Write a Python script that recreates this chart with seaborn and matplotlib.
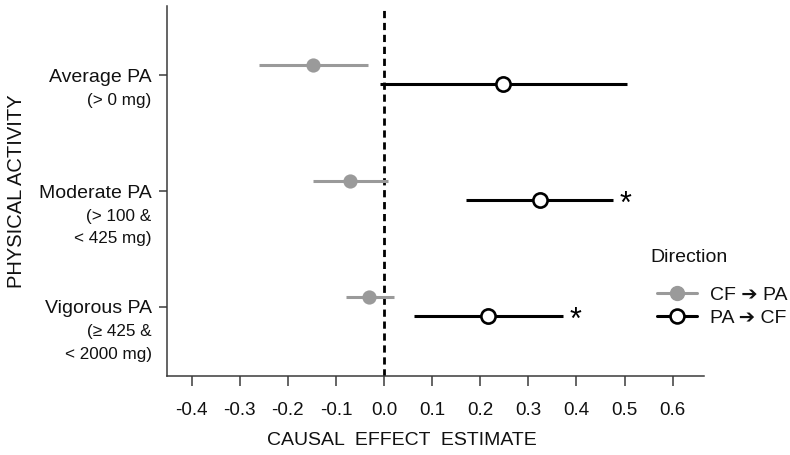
import numpy as np
import pandas as pd
import matplotlib
matplotlib.use("Agg")
import matplotlib.pyplot as plt
import seaborn as sns
from matplotlib.lines import Line2D

# ---- data ----
categories = ["Average PA", "Moderate PA", "Vigorous PA"]
sublabels = [["(> 0 mg)"], ["(> 100 &", "< 425 mg)"], ["(≥ 425 &", "< 2000 mg)"]]
directions = ["CF ➔ PA", "PA ➔ CF"]
cf_pa_est = [-0.148, -0.071, -0.031]
cf_pa_lo = [-0.260, -0.148, -0.079]
cf_pa_hi = [-0.033, 0.008, 0.021]
pa_cf_est = [0.247, 0.324, 0.216]
pa_cf_lo = [-0.008, 0.170, 0.062]
pa_cf_hi = [0.505, 0.476, 0.372]
pa_cf_sig = [False, True, True]
xticks = [-0.4, -0.3, -0.2, -0.1, 0.0, 0.1, 0.2, 0.3, 0.4, 0.5, 0.6]

sns.set_theme(style="ticks")
plt.rcParams["font.family"] = ["Liberation Sans", "DejaVu Sans"]

GRAY = "#9a9a9a"
AXC = "#3a3a3a"
TXT = "#111111"

df = pd.DataFrame({
    "category": categories * 2,
    "direction": [directions[0]] * 3 + [directions[1]] * 3,
    "est": cf_pa_est + pa_cf_est,
    "lo": cf_pa_lo + pa_cf_lo,
    "hi": cf_pa_hi + pa_cf_hi,
})
offsets = {directions[0]: -0.085, directions[1]: 0.075}
df["ypos"] = [categories.index(c) + offsets[d] for c, d in zip(df["category"], df["direction"])]

fig = plt.figure(figsize=(7.9, 4.55), dpi=100)
ax = fig.add_axes([167 / 790, 1 - 376 / 455, (704 - 167) / 790, (376 - 6) / 455])

# zero line
ax.axvline(0, color="black", lw=2.0, linestyle=(0, (2.6, 1.7)), zorder=1)

styles = {
    directions[0]: dict(line=GRAY, face=GRAY, edge=GRAY),
    directions[1]: dict(line="black", face="white", edge="black"),
}
for d in directions:
    sub = df[df["direction"] == d]
    ax.hlines(sub["ypos"], sub["lo"], sub["hi"], color=styles[d]["line"], lw=2.2, zorder=2)
    sns.scatterplot(data=sub, x="est", y="ypos", ax=ax, s=105,
                    color=styles[d]["face"], edgecolor=styles[d]["edge"],
                    linewidth=1.9 if d == directions[1] else 0, zorder=3, legend=False)

# significance stars
sub = df[df["direction"] == directions[1]].reset_index(drop=True)
for i, sig in enumerate(pa_cf_sig):
    if sig:
        ax.annotate("*", xy=(sub.loc[i, "hi"], sub.loc[i, "ypos"]), xytext=(9, -3.5),
                    textcoords="offset points", ha="center", va="center",
                    fontsize=22, color="black")

ax.set_xlim(-0.451, 0.665)
ax.set_ylim(2.595, -0.595)
ax.set_xticks(xticks)
ax.set_xticklabels([f"{t:.1f}" for t in xticks], fontsize=13.5)
ax.set_yticks(range(len(categories)))
ax.set_yticklabels(categories, fontsize=14)

for i, lines in enumerate(sublabels):
    for j, s in enumerate(lines):
        ax.annotate(s, xy=(0, i), xycoords=("axes fraction", "data"),
                    xytext=(-11, -18 - 16 * j), textcoords="offset points",
                    ha="right", va="center", fontsize=12.3, color=TXT)

ax.tick_params(axis="x", length=7, width=1.1, color=AXC, pad=12, labelcolor=TXT)
ax.tick_params(axis="y", length=6, width=1.1, color=AXC, pad=5, labelcolor=TXT)
for s in ["top", "right"]:
    ax.spines[s].set_visible(False)
for s in ["left", "bottom"]:
    ax.spines[s].set_color(AXC)
    ax.spines[s].set_linewidth(1.1)

ax.set_xlabel("CAUSAL  EFFECT  ESTIMATE", fontsize=14, color=TXT)
ax.xaxis.set_label_coords((402 - 167) / 537, -0.152)
ax.set_ylabel("PHYSICAL ACTIVITY", fontsize=14.5, color=TXT)
ax.yaxis.set_label_coords(-0.262, 0.5)

handles = [
    Line2D([], [], color=GRAY, lw=2.2, marker="o", markersize=10,
           markerfacecolor=GRAY, markeredgecolor=GRAY),
    Line2D([], [], color="black", lw=2.2, marker="o", markersize=10,
           markerfacecolor="white", markeredgecolor="black", markeredgewidth=1.9),
]
fig.text(650 / 790, 1 - 257 / 455, "Direction", fontsize=14, color=TXT,
         ha="left", va="center")
leg = fig.legend(handles, directions, loc="upper left",
                 bbox_to_anchor=(657 / 790, 1 - 286 / 455), frameon=False,
                 borderaxespad=0, borderpad=0,
                 fontsize=14, handlelength=2.05, handletextpad=0.65,
                 labelspacing=0.3)
for t in leg.get_texts():
    t.set_color(TXT)

fig.savefig("out.png", dpi=100)
